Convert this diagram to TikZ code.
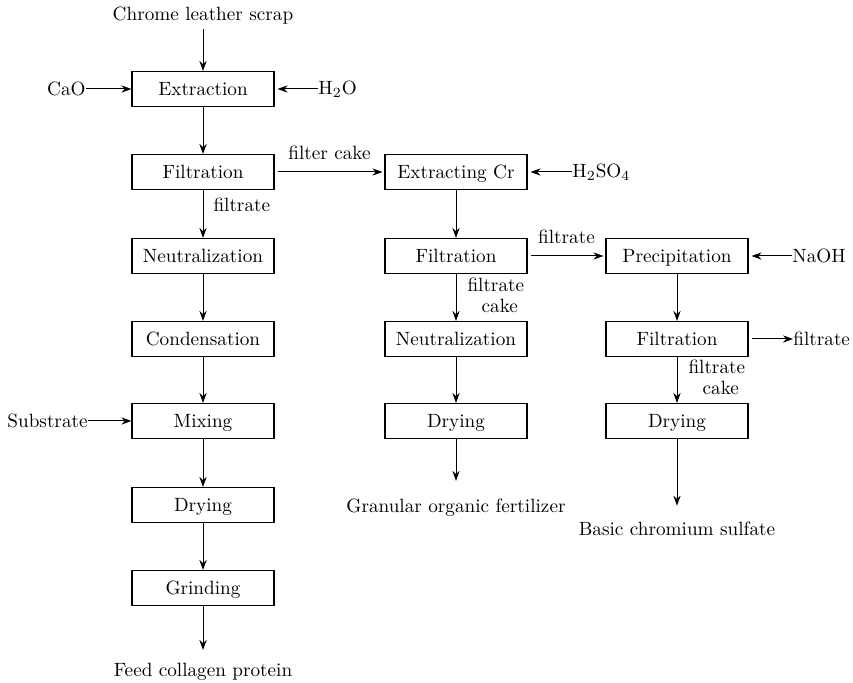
\documentclass[tikz,border=0pt]{standalone}
\usetikzlibrary{arrows.meta}
\begin{document}
\begin{tikzpicture}[x=0.5pt,y=-0.5pt,
  every node/.style={font=\fontsize{9.6}{11.5}\selectfont, inner sep=0pt},
  proc/.style={draw, line width=0.55pt, minimum width=71pt, minimum height=17.5pt, text height=8.6pt, text depth=2pt},
  arr/.style={-{Stealth[length=5pt,width=3.6pt]}, line width=0.5pt}]
\useasboundingbox (0,0) rectangle (853,683);
% column 1
\node (src) at (203,16) {Chrome leather scrap};
\node[proc] (ext) at (203,89) {Extraction};
\node[proc] (f1) at (203,172) {Filtration};
\node[proc] (n1) at (203,256) {Neutralization};
\node[proc] (c1) at (203,339) {Condensation};
\node[proc] (m1) at (203,421) {Mixing};
\node[proc] (d1) at (203,505) {Drying};
\node[proc] (g1) at (203,588) {Grinding};
\node (feed) at (203,672) {Feed collagen protein};
\node[anchor=east] (cao) at (86,89) {CaO};
\node[anchor=west] (h2o) at (318,89) {H$_2$O};
\node[anchor=east] (sub) at (88,421) {Substrate};
% column 2
\node[proc] (ecr) at (456,172) {Extracting Cr};
\node[proc] (f2) at (456,256) {Filtration};
\node[proc] (n2) at (456,339) {Neutralization};
\node[proc] (d2) at (456,421) {Drying};
\node (gran) at (456,508) {Granular organic fertilizer};
\node[anchor=west] (h2so4) at (572,172) {H$_2$SO$_4$};
% column 3
\node[proc] (pre) at (677,256) {Precipitation};
\node[proc] (f3) at (677,339) {Filtration};
\node[proc] (d3) at (677,421) {Drying};
\node (bcs) at (677,529) {Basic chromium sulfate};
\node[anchor=west] (naoh) at (792,256) {NaOH};
\node[anchor=west] (filt) at (793,339) {filtrate};
% connectors column 1
\draw[arr, shorten <=2pt] (src) -- (ext);
\draw[arr] (cao) -- (ext);
\draw[arr, shorten >=1.5pt] (h2o) -- (ext);
\draw[arr] (sub) -- (m1);
\draw[arr] (ext) -- (f1);
\draw[arr] (f1) -- node[pos=0.3, anchor=west, xshift=5pt] {filtrate} (n1);
\draw[arr] (n1) -- (c1);
\draw[arr] (c1) -- (m1);
\draw[arr] (m1) -- (d1);
\draw[arr] (d1) -- (g1);
\draw[arr, shorten >=6.5pt] (g1) -- (feed);
% connectors column 2
\draw[arr, shorten <=1.5pt, shorten >=1pt] (f1) -- node[above=6pt] {filter cake} (ecr);
\draw[arr, shorten >=1.5pt] (h2so4) -- (ecr);
\draw[arr] (ecr) -- (f2);
\draw[arr, shorten <=1.5pt, shorten >=1pt] (f2) -- node[above=6pt] {filtrate} (pre);
\draw[arr] (f2) -- node[pos=0.45, anchor=west, xshift=5.5pt, align=center] {filtrate\\[-1pt]\hspace*{4pt}cake} (n2);
\draw[arr] (n2) -- (d2);
\draw[arr, shorten >=9pt] (d2) -- (gran);
% connectors column 3
\draw[arr, shorten >=1.5pt] (naoh) -- (pre);
\draw[arr] (pre) -- (f3);
\draw[arr, shorten <=1.5pt] (f3) -- (filt);
\draw[arr] (f3) -- node[pos=0.45, anchor=west, xshift=5.5pt, align=center] {filtrate\\[-1pt]\hspace*{4pt}cake} (d3);
\draw[arr, shorten >=8pt] (d3) -- (bcs);
\end{tikzpicture}
\end{document}
